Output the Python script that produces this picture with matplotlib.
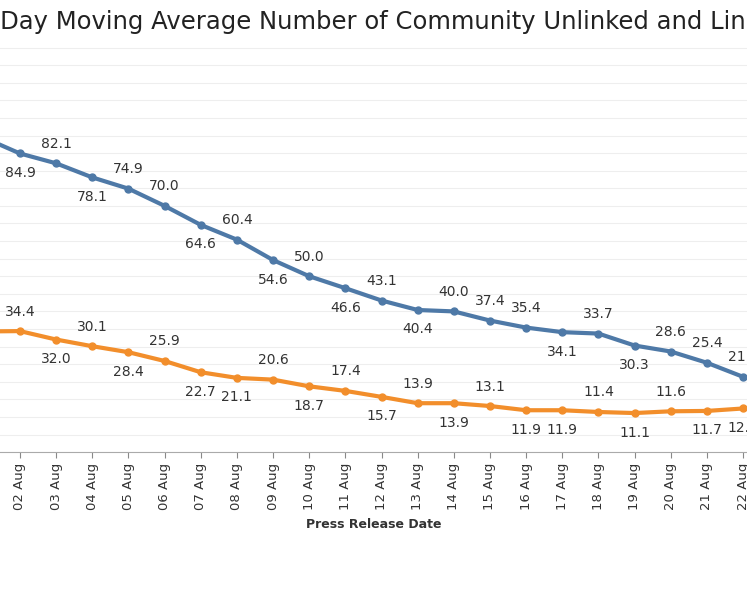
import matplotlib.pyplot as plt
import numpy as np

days = list(range(1, 23))
labels = [f"{d:02d} Aug" for d in days]
unlinked = [89.4, 84.9, 82.1, 78.1, 74.9, 70.0, 64.6, 60.4, 54.6, 50.0, 46.6,
            43.1, 40.4, 40.0, 37.4, 35.4, 34.1, 33.7, 30.3, 28.6, 25.4, 21.4]
linked = [34.3, 34.4, 32.0, 30.1, 28.4, 25.9, 22.7, 21.1, 20.6, 18.7, 17.4,
          15.7, 13.9, 13.9, 13.1, 11.9, 11.9, 11.4, 11.1, 11.6, 11.7, 12.4]
# label placement: 1 = above, -1 = below
unlinked_pos = [1, -1, 1, -1, 1, 1, -1, 1, -1, 1, -1, 1, -1, 1, 1, 1, -1, 1, -1, 1, 1, 1]
linked_pos = [1, 1, -1, 1, -1, 1, -1, -1, 1, -1, 1, -1, 1, -1, 1, -1, -1, 1, -1, 1, -1, -1]

blue = "#4e79a7"
orange = "#f28e2b"

fig = plt.figure(figsize=(7.47, 5.98), dpi=100)
ax = fig.add_axes([0, 0.244, 1, 0.694])

ax.plot(days, unlinked, color=blue, lw=3, marker="o", ms=5)
ax.plot(days, linked, color=orange, lw=3, marker="o", ms=5)

for d, v, p in zip(days, unlinked, unlinked_pos):
    ax.annotate(f"{v:.1f}", (d, v), xytext=(0, 9 * p), textcoords="offset points",
                ha="center", va="bottom" if p > 0 else "top", fontsize=10, color="#333333")
for d, v, p in zip(days, linked, linked_pos):
    ax.annotate(f"{v:.1f}", (d, v), xytext=(0, 9 * p), textcoords="offset points",
                ha="center", va="bottom" if p > 0 else "top", fontsize=10, color="#333333")

ax.set_xticks(days)
ax.set_xticklabels(labels, rotation=90, fontsize=9.5, color="#333333")
ax.set_yticks(np.arange(0, 120, 5))
ax.set_xlim(1.447, 22.11)
ax.set_ylim(0, 118)
ax.tick_params(axis="y", left=False, labelleft=False)
ax.tick_params(axis="x", length=4, color="#888888")
ax.grid(axis="y", color="#eeeeee", lw=0.8)
for s in ["top", "left", "right"]:
    ax.spines[s].set_visible(False)
ax.spines["bottom"].set_color("#aaaaaa")
ax.set_xlabel("Press Release Date", fontsize=9, fontweight="bold", color="#333333", labelpad=6)

fig.text(-0.032, 0.963, "7-Day Moving Average Number of Community Unlinked and Linked Cases",
         ha="left", va="center", fontsize=17.5, color="#222222")

fig.savefig("out.png", dpi=100)
